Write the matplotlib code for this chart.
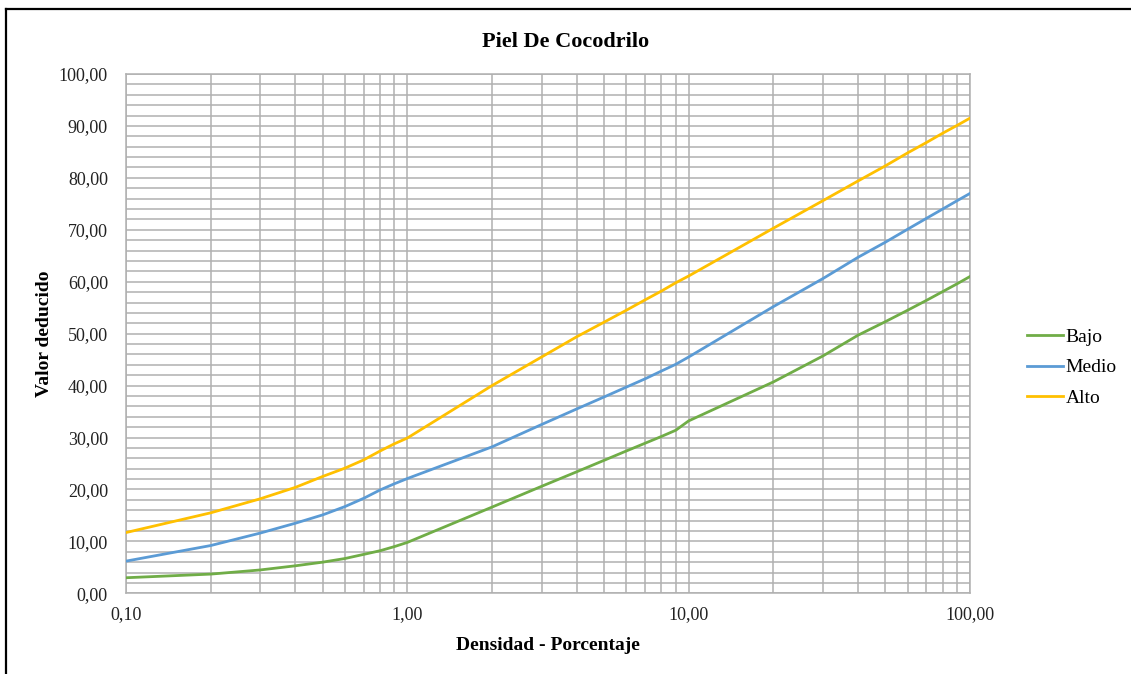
import numpy as np
import matplotlib
matplotlib.use("Agg")
import matplotlib.pyplot as plt
from matplotlib.lines import Line2D
from matplotlib.ticker import FixedLocator, FuncFormatter, LogLocator, MultipleLocator

# densidad (%) and valor deducido per severity level
densidad = [0.1, 0.2, 0.3, 0.4, 0.5, 0.6, 0.7, 0.8, 0.9, 1,
            2, 3, 4, 5, 6, 7, 8, 9, 10,
            20, 30, 40, 50, 60, 70, 80, 90, 100]
bajo = [3.0, 3.7, 4.5, 5.3, 6.0, 6.7, 7.5, 8.2, 9.0, 9.8,
        16.6, 20.6, 23.4, 25.6, 27.4, 28.9, 30.2, 31.4, 33.2,
        40.7, 45.7, 49.7, 52.3, 54.5, 56.4, 58.1, 59.6, 61.0]
medio = [6.2, 9.2, 11.6, 13.5, 15.1, 16.7, 18.3, 19.9, 21.1, 22.1,
         28.2, 32.5, 35.5, 37.8, 39.7, 41.3, 42.8, 44.1, 45.5,
         55.2, 60.6, 64.7, 67.6, 70.1, 72.2, 74.0, 75.6, 77.0]
alto = [11.7, 15.5, 18.2, 20.4, 22.5, 24.1, 25.7, 27.4, 28.8, 29.9,
        40.0, 45.5, 49.4, 52.2, 54.5, 56.5, 58.2, 59.8, 61.1,
        70.3, 75.6, 79.4, 82.3, 84.8, 86.8, 88.6, 90.1, 91.5]

series = [("Bajo", bajo, "#70AD47"),
          ("Medio", medio, "#5B9BD5"),
          ("Alto", alto, "#FFC000")]

plt.rcParams["font.family"] = ["Liberation Serif", "DejaVu Serif"]
grid_col = "#B0B0B0"

fig = plt.figure(figsize=(11.31, 6.74), dpi=100)
ax = fig.add_axes([0.1114, 0.1197, 0.7462, 0.7705])

for name, vals, col in series:
    ax.plot(densidad, vals, color=col, lw=2.0, label=name, zorder=3)

ax.set_xscale("log")
ax.set_xlim(0.1, 100)
ax.set_ylim(0, 100)
ax.xaxis.set_major_locator(FixedLocator([0.1, 1, 10, 100]))
ax.xaxis.set_minor_locator(LogLocator(base=10, subs=np.arange(2, 10)))
ax.xaxis.set_minor_formatter(FuncFormatter(lambda v, p: ""))
ax.yaxis.set_major_locator(MultipleLocator(10))
ax.yaxis.set_minor_locator(MultipleLocator(2))

fmt = FuncFormatter(lambda v, p: "{:.2f}".format(v).replace(".", ","))
ax.xaxis.set_major_formatter(fmt)
ax.yaxis.set_major_formatter(fmt)

ax.grid(True, which="both", color=grid_col, lw=1.1)
ax.set_axisbelow(True)
for s in ax.spines.values():
    s.set_color(grid_col)
    s.set_linewidth(1.1)
ax.tick_params(which="both", length=0)
ax.tick_params(axis="both", labelsize=13, colors="#222222")
ax.tick_params(axis="x", pad=9)
ax.tick_params(axis="y", pad=13)

ax.set_xlabel("Densidad - Porcentaje", fontsize=14, fontweight="bold", va="center")
ax.set_ylabel("Valor deducido", fontsize=14, fontweight="bold", va="center")
ax.xaxis.set_label_coords(0.5, -0.0996)
ax.yaxis.set_label_coords(-0.097, 0.5)
fig.text(0.5, 0.9377, "Piel De Cocodrilo", ha="center", va="center",
         fontsize=16, fontweight="bold")

ax.legend(loc="upper left", bbox_to_anchor=(1.058, 0.525), frameon=False,
          fontsize=14, handlelength=1.85, handletextpad=0.15, labelspacing=0.65,
          borderaxespad=0)

# outer frame (left and top edge only visible)
fig.add_artist(Line2D([0.0049, 0.0049], [0.0, 0.9866], color="black", lw=1.6))
fig.add_artist(Line2D([0.0049, 1.0], [0.9866, 0.9866], color="black", lw=1.6))

fig.savefig("out.png", dpi=100)
